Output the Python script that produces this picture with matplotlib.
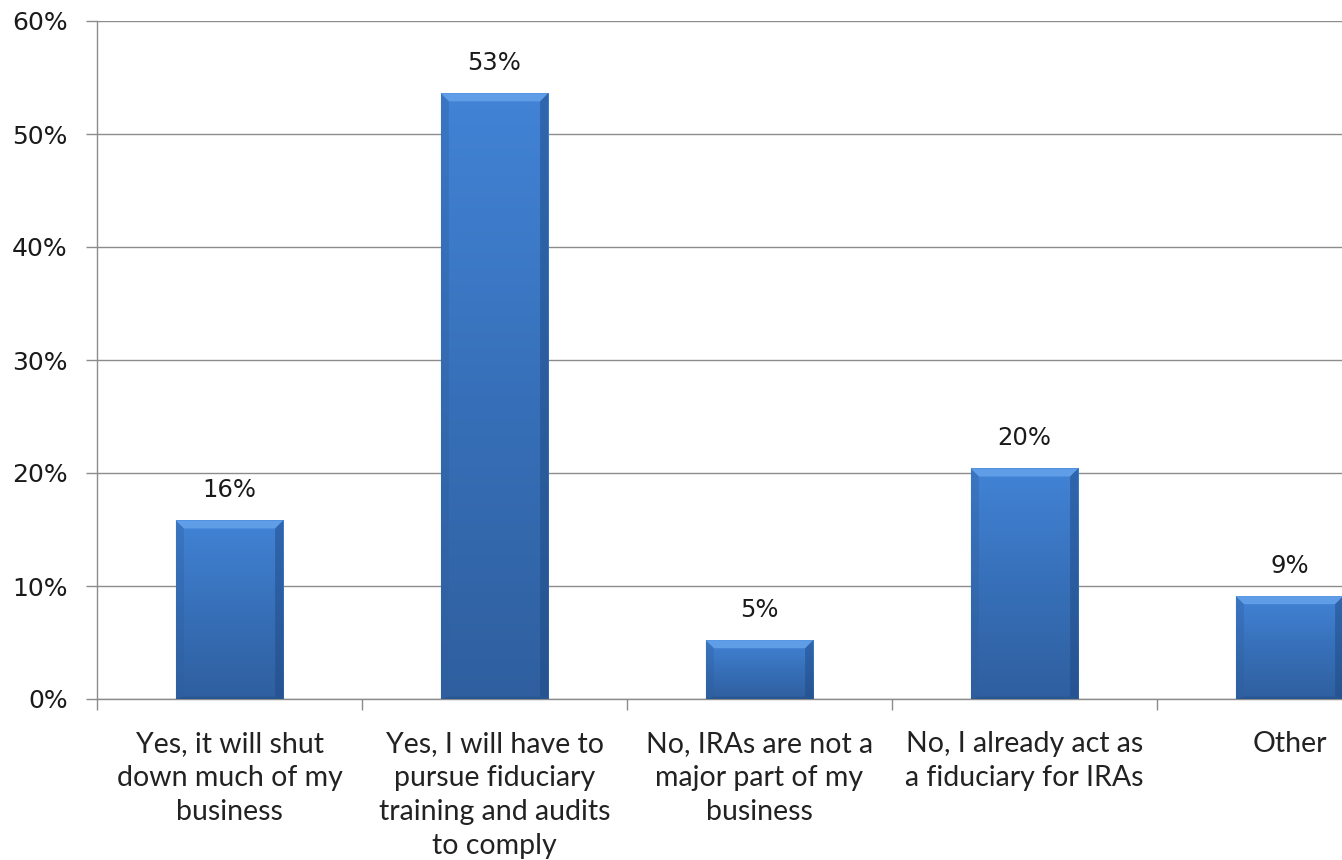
import numpy as np
import matplotlib
matplotlib.use("Agg")
import matplotlib.pyplot as plt
from matplotlib.patches import Polygon

categories = [
    "Yes, it will shut\ndown much of my\nbusiness",
    "Yes, I will have to\npursue fiduciary\ntraining and audits\nto comply",
    "No, IRAs are not a\nmajor part of my\nbusiness",
    "No, I already act as\na fiduciary for IRAs",
    "Other",
]
values = [15.8, 53.6, 5.2, 20.4, 9.1]
value_labels = ["16%", "53%", "5%", "20%", "9%"]
yticks = [0, 10, 20, 30, 40, 50, 60]

W, H = 1342, 860
fig = plt.figure(figsize=(W / 100, H / 100), dpi=100)
left, right, top, bottom = 97, 1422, 21, 699
ax = fig.add_axes([left / W, 1 - bottom / H, (right - left) / W, (bottom - top) / H])

x = np.arange(len(categories))
bars = ax.bar(x, values, width=0.405, color="#3A76C2", edgecolor="none", zorder=3)

ax.set_xlim(-0.5, len(categories) - 0.5)
ax.set_ylim(0, 60)

grad = np.linspace(0, 1, 256).reshape(-1, 1)
cmap = matplotlib.colors.LinearSegmentedColormap.from_list(
    "b", ["#2F5F9F", "#3770B9", "#4283D6"])
for b, lab in zip(bars, value_labels):
    x0, y0 = b.get_x(), b.get_y()
    w, h = b.get_width(), b.get_height()
    im = ax.imshow(grad, extent=(x0, x0 + w, y0, y0 + h), origin="lower",
                   cmap=cmap, aspect="auto", zorder=3.1)
    im.set_clip_path(b)
    dx = w * 0.075
    dy = min(60 * 8 / (bottom - top), h / 2)
    topb = Polygon([(x0, y0 + h), (x0 + w, y0 + h), (x0 + w - dx, y0 + h - dy),
                    (x0 + dx, y0 + h - dy)], closed=True, color="#6AA8EE",
                   alpha=0.75, zorder=3.2, lw=0)
    leftb = Polygon([(x0, y0), (x0, y0 + h), (x0 + dx, y0 + h - dy), (x0 + dx, y0 + dy * 0.3)],
                    closed=True, color="#2E5E9E", alpha=0.35, zorder=3.2, lw=0)
    rightb = Polygon([(x0 + w, y0), (x0 + w, y0 + h), (x0 + w - dx, y0 + h - dy),
                      (x0 + w - dx, y0 + dy * 0.3)],
                     closed=True, color="#1F4A85", alpha=0.5, zorder=3.2, lw=0)
    botb = Polygon([(x0, y0), (x0 + w, y0), (x0 + w - dx, y0 + dy * 0.3), (x0 + dx, y0 + dy * 0.3)],
                   closed=True, color="#234E88", alpha=0.5, zorder=3.2, lw=0)
    for p in (topb, leftb, rightb, botb):
        ax.add_patch(p)
    ax.text(x0 + w / 2, y0 + h + 1.6, lab,
            ha="center", va="bottom", fontsize=17.5, color="#1A1A1A",
            family="DejaVu Sans", zorder=4)

ax.set_yticks(yticks)
ax.set_yticklabels([f"{t}%" for t in yticks], fontsize=18, color="#1A1A1A",
                   family="DejaVu Sans")
ax.yaxis.grid(True, color="#8C8C8C", lw=1.0, zorder=0)
ax.set_axisbelow(True)

ax.set_xticks(x)
ax.set_xticklabels(categories, fontsize=20.5, color="#222222", family="Lato",
                   linespacing=1.38, va="top")
ax.set_xticks(np.arange(-0.5, len(categories), 1.0), minor=True)
ax.tick_params(axis="x", which="major", length=0, pad=23)
ax.tick_params(axis="x", which="minor", length=8, color="#8C8C8C", width=1)
ax.tick_params(axis="y", length=8, color="#8C8C8C", width=1, pad=13)

for s in ("top", "right"):
    ax.spines[s].set_visible(False)
for s in ("left", "bottom"):
    ax.spines[s].set_color("#8C8C8C")
    ax.spines[s].set_linewidth(1.0)

fig.savefig("out.png", dpi=100)
